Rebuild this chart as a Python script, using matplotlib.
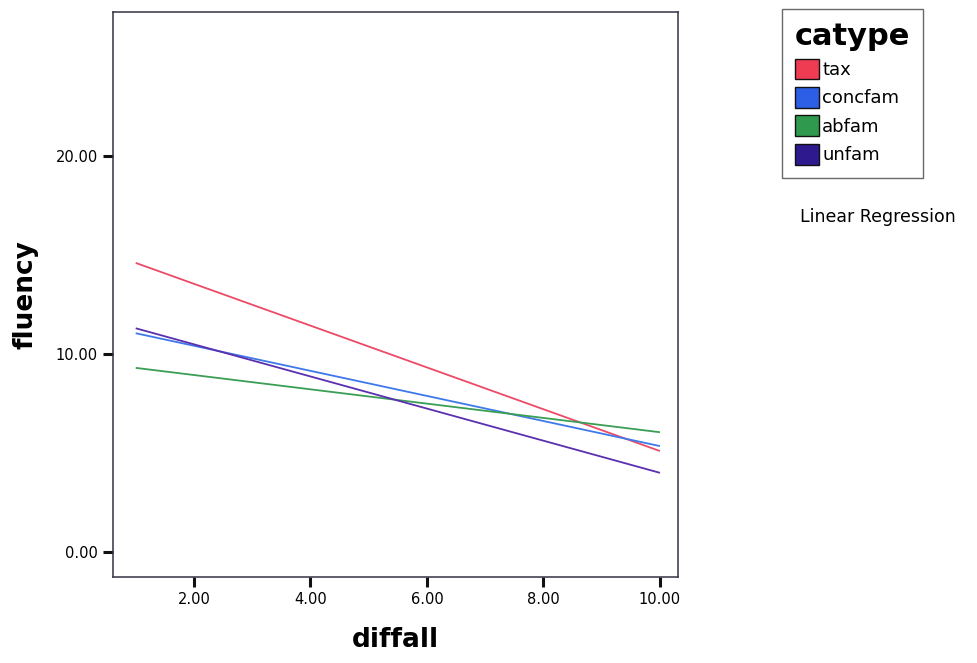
import matplotlib
matplotlib.use("Agg")
import matplotlib.pyplot as plt
from matplotlib.patches import Patch

# Fitted regression lines of fluency on diffall, one per catype
categories = ["tax", "concfam", "abfam", "unfam"]
diffall_range = [1.0, 10.0]
fluency_at_min = [14.6, 11.05, 9.3, 11.3]
fluency_at_max = [5.1, 5.35, 6.05, 4.0]

line_colors = ["#ec4a66", "#3f78ea", "#3a9e55", "#5a2fb0"]
swatch_colors = ["#f03c52", "#2d5fe6", "#2f9a4d", "#2e1a8e"]

x_ticks = [2, 4, 6, 8, 10]
y_ticks = [0, 10, 20]

fig = plt.figure(figsize=(9.78, 6.63), dpi=100)
W, H = 978, 663
left, right, top, bottom = 113, 678, 12, 577
ax = fig.add_axes([left / W, 1 - bottom / H, (right - left) / W, (bottom - top) / H])

for name, y0, y1, c in zip(categories, fluency_at_min, fluency_at_max, line_colors):
    ax.plot(diffall_range, [y0, y1], color=c, lw=1.3, solid_capstyle="butt")

ax.set_xlim(0.61, 10.31)
ax.set_ylim(-1.26, 27.27)
ax.set_xticks(x_ticks)
ax.set_xticklabels([f"{v:.2f}" for v in x_ticks], fontsize=10.5, family="DejaVu Sans")
ax.set_yticks(y_ticks)
ax.set_yticklabels([f"{v:.2f}" for v in y_ticks], fontsize=10.5, family="DejaVu Sans")
ax.tick_params(direction="out", length=7, width=2.2, color="#111111", pad=4)
for s in ax.spines.values():
    s.set_color("#333344")
    s.set_linewidth(1.1)

ax.set_xlabel("diffall", fontsize=19, fontweight="bold", labelpad=14)
ax.set_ylabel("fluency", fontsize=19, fontweight="bold", labelpad=12)

handles = [Patch(facecolor=c, edgecolor="#111111", linewidth=1.0) for c in swatch_colors]
leg = fig.legend(handles, categories, title="catype",
                 loc="upper left", bbox_to_anchor=(782 / W, 1 - 9 / H),
                 frameon=True, fancybox=False, fontsize=13,
                 handlelength=1.35, handleheight=1.4, handletextpad=0.15,
                 labelspacing=0.42, borderpad=0.72, borderaxespad=0,
                 alignment="left",
                 title_fontproperties={"size": 22, "weight": "bold"})
leg.get_frame().set_edgecolor("#444444")
leg.get_frame().set_linewidth(1.0)

fig.text(800 / W, 1 - 217 / H, "Linear Regression", fontsize=12.5, va="center", ha="left")

fig.savefig("out.png", dpi=100, facecolor="white")
